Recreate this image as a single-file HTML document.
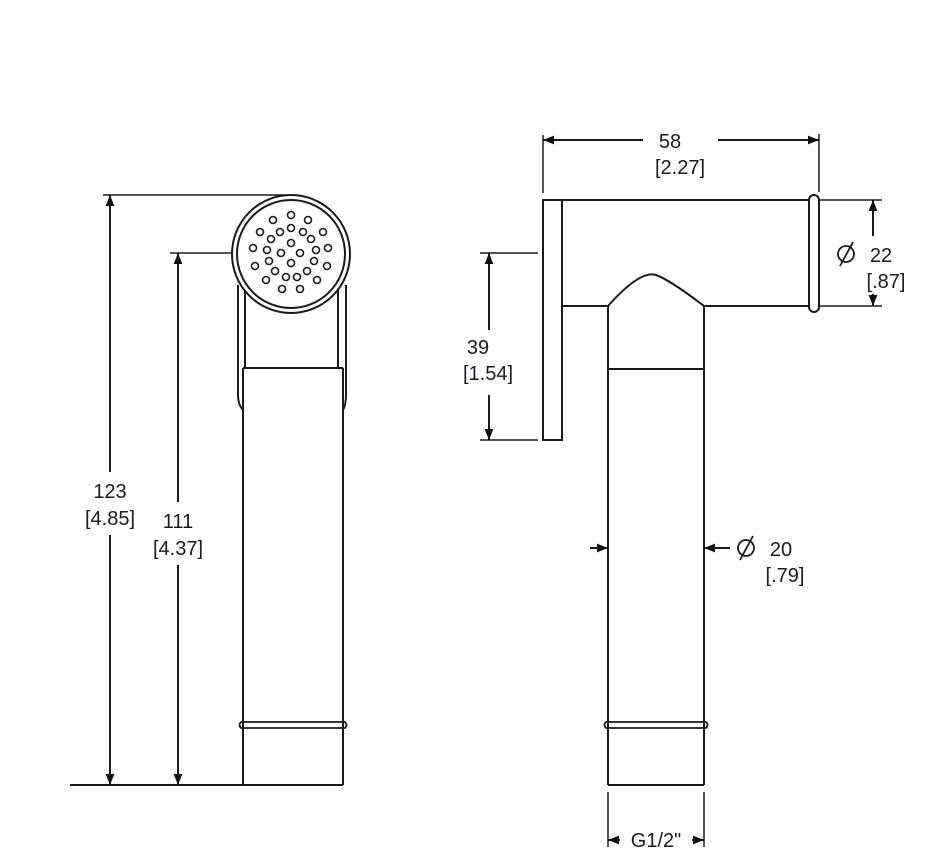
<!DOCTYPE html>
<html><head><style>
html,body{margin:0;padding:0;background:#fff;}
svg{display:block}
text{font-family:"Liberation Sans",Arial,sans-serif;font-size:20px;fill:#1a1a22;text-anchor:middle}
</style></head><body>
<svg width="933" height="868" viewBox="0 0 933 868" xmlns="http://www.w3.org/2000/svg">
<defs>
<marker id="a" viewBox="0 0 10 10" refX="10" refY="5" markerWidth="12" markerHeight="11" markerUnits="userSpaceOnUse" orient="auto"><path d="M0,1 L10,5 L0,9 z" fill="#111"/></marker>
</defs>
<g stroke="#1a1a1a" stroke-width="2" fill="none">
<line x1="103" y1="195" x2="285" y2="195" stroke-width="1.5"/>
<line x1="170" y1="253" x2="232" y2="253" stroke-width="1.5"/>
<line x1="70" y1="785" x2="343" y2="785"/>
<line x1="110" y1="472" x2="110" y2="195" marker-end="url(#a)"/>
<line x1="110" y1="535" x2="110" y2="785" marker-end="url(#a)"/>
<line x1="178" y1="502" x2="178" y2="253" marker-end="url(#a)"/>
<line x1="178" y1="565" x2="178" y2="785" marker-end="url(#a)"/>
<path d="M238,285 L238,395 Q238,405 243,410"/>
<path d="M245,290 L245,368"/>
<path d="M346,285 L346,395 Q346,405 343,410"/>
<path d="M338,290 L338,368"/>
<line x1="243" y1="368" x2="343" y2="368"/>
<line x1="243" y1="368" x2="243" y2="785"/>
<line x1="343" y1="368" x2="343" y2="785"/>
<path d="M243,722 L241,722 Q238,725 241,728 L345,728 Q348,725 345,722 Z" stroke-width="1.8"/>
<circle cx="291" cy="254" r="59" fill="#fff"/>
<circle cx="291" cy="254" r="54"/>
<g stroke-width="1.6">
<circle cx="291" cy="215" r="3.5"/><circle cx="273" cy="220" r="3.5"/><circle cx="308" cy="220" r="3.5"/>
<circle cx="260" cy="232" r="3.5"/><circle cx="280" cy="232" r="3.5"/><circle cx="291" cy="228" r="3.5"/>
<circle cx="303" cy="232" r="3.5"/><circle cx="323" cy="232" r="3.5"/><circle cx="271" cy="239" r="3.5"/>
<circle cx="311" cy="239" r="3.5"/><circle cx="291" cy="243" r="3.5"/><circle cx="253" cy="248" r="3.5"/>
<circle cx="267" cy="250" r="3.5"/><circle cx="281" cy="253" r="3.5"/><circle cx="300" cy="253" r="3.5"/>
<circle cx="316" cy="250" r="3.5"/><circle cx="328" cy="248" r="3.5"/><circle cx="255" cy="266" r="3.5"/>
<circle cx="269" cy="261" r="3.5"/><circle cx="291" cy="263" r="3.5"/><circle cx="314" cy="261" r="3.5"/>
<circle cx="327" cy="266" r="3.5"/><circle cx="275" cy="271" r="3.5"/><circle cx="286" cy="277" r="3.5"/>
<circle cx="297" cy="277" r="3.5"/><circle cx="307" cy="271" r="3.5"/><circle cx="266" cy="280" r="3.5"/>
<circle cx="317" cy="280" r="3.5"/><circle cx="282" cy="289" r="3.5"/><circle cx="300" cy="289" r="3.5"/>
</g>
<rect x="543" y="200" width="19" height="240"/>
<line x1="562" y1="200" x2="809" y2="200"/>
<line x1="562" y1="306" x2="608" y2="306"/>
<line x1="704" y1="306" x2="809" y2="306"/>
<rect x="809" y="195" width="10" height="117" rx="5"/>
<path d="M608,306 Q640,270 656,275 Q670,280 704,306"/>
<line x1="608" y1="306" x2="608" y2="785"/>
<line x1="704" y1="306" x2="704" y2="785"/>
<line x1="608" y1="369" x2="704" y2="369"/>
<line x1="608" y1="785" x2="704" y2="785"/>
<path d="M608,722 L606,722 Q603,725 606,728 L706,728 Q709,725 706,722 Z" stroke-width="1.8"/>
<line x1="543" y1="135" x2="543" y2="193" stroke-width="1.5"/>
<line x1="819" y1="134" x2="819" y2="192" stroke-width="1.5"/>
<line x1="643" y1="140" x2="543" y2="140" marker-end="url(#a)"/>
<line x1="718" y1="140" x2="819" y2="140" marker-end="url(#a)"/>
<line x1="819" y1="200" x2="882" y2="200" stroke-width="1.5"/>
<line x1="819" y1="306" x2="882" y2="306" stroke-width="1.5"/>
<line x1="873" y1="236" x2="873" y2="200" marker-end="url(#a)"/>
<line x1="873" y1="294" x2="873" y2="306" marker-end="url(#a)"/>
<line x1="480" y1="253" x2="538" y2="253" stroke-width="1.5"/>
<line x1="480" y1="440" x2="538" y2="440" stroke-width="1.5"/>
<line x1="489" y1="330" x2="489" y2="253" marker-end="url(#a)"/>
<line x1="489" y1="395" x2="489" y2="440" marker-end="url(#a)"/>
<line x1="590" y1="548" x2="608" y2="548" marker-end="url(#a)"/>
<line x1="730" y1="548" x2="704" y2="548" marker-end="url(#a)"/>
<line x1="608" y1="792" x2="608" y2="847" stroke-width="1.5"/>
<line x1="704" y1="792" x2="704" y2="847" stroke-width="1.5"/>
<line x1="620" y1="840" x2="608" y2="840" marker-end="url(#a)"/>
<line x1="692" y1="840" x2="704" y2="840" marker-end="url(#a)"/>
<circle cx="846" cy="254" r="8" stroke-width="1.8"/><line x1="840" y1="266" x2="853" y2="242" stroke-width="1.8"/>
<circle cx="746" cy="548" r="8" stroke-width="1.8"/><line x1="740" y1="560" x2="753" y2="536" stroke-width="1.8"/>
</g>
<text x="110" y="498">123</text>
<text x="110" y="525">[4.85]</text>
<text x="178" y="528">111</text>
<text x="178" y="555">[4.37]</text>
<text x="670" y="148">58</text>
<text x="680" y="174">[2.27]</text>
<text x="881" y="262">22</text>
<text x="886" y="288">[.87]</text>
<text x="478" y="354">39</text>
<text x="488" y="380">[1.54]</text>
<text x="781" y="556">20</text>
<text x="785" y="582">[.79]</text>
<text x="656" y="847">G1/2"</text>
</svg>
</body></html>
